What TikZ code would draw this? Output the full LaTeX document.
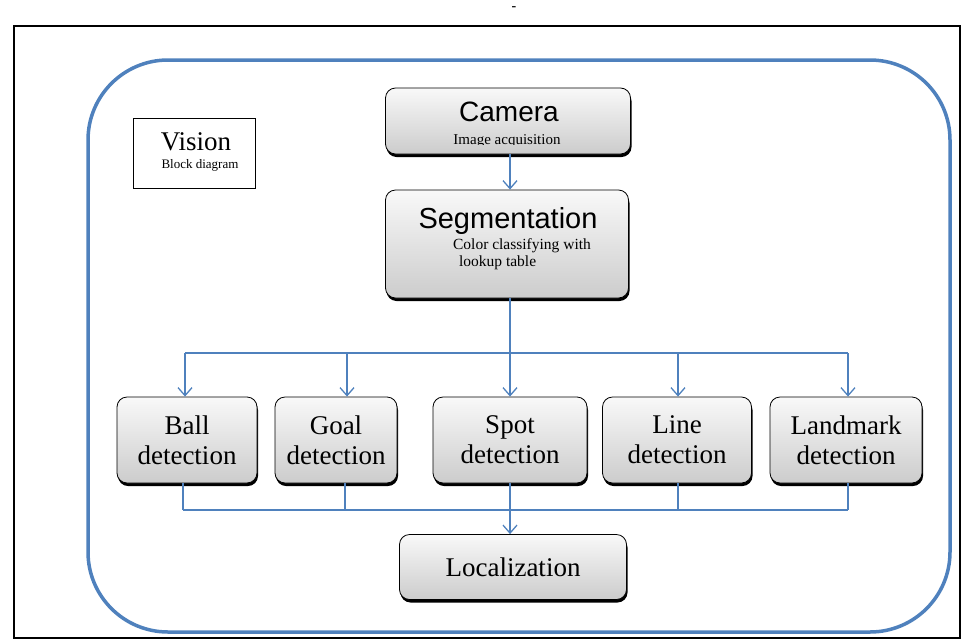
\documentclass[tikz,border=0pt]{standalone}
\usepackage{fontspec}
\setmainfont{Liberation Serif}
\newfontfamily\sansf{Liberation Sans}
\usetikzlibrary{arrows.meta,shadows}
\definecolor{bl}{HTML}{4F81BD}
\begin{document}
\begin{tikzpicture}[x=1pt,y=-1pt,
  box/.style={draw=black,line width=0.8pt,rounded corners=10pt,top color=gray!5,bottom color=gray!40,
    drop shadow={shadow xshift=1pt,shadow yshift=-3pt,fill=black,opacity=1},align=center,inner sep=0pt},
  con/.style={draw=bl,line width=1.3pt},
  arr/.style={con,-{Straight Barb[length=8pt,width=14pt]}}]
\useasboundingbox (0,0) rectangle (972,643);
\node (dash) at (514,9) {\bfseries\fontsize{14}{14}\selectfont -};
\draw[line width=1.3pt] (14,26) rectangle (960,638);
\draw[bl,line width=3.5pt,rounded corners=80pt] (88,60) rectangle (950,632);
\node[draw,line width=0.6pt,minimum width=122pt,minimum height=70pt] (vis) at (194,153) {};
\node at (196,142) {\fontsize{27}{28}\selectfont Vision};
\node at (200,165) {\fontsize{13}{14}\selectfont Block diagram};
\node[box,minimum width=245pt,minimum height=66pt] (cam) at (508,121) {};
\node at (509,112) {\sansf\fontsize{28}{30}\selectfont Camera};
\begin{scope}
\clip (390,128) rectangle (625,144);
\node at (507,141) {\fontsize{15}{16}\selectfont Image acquisition};
\end{scope}
\node[box,minimum width=243pt,minimum height=108pt] (seg) at (507,244) {};
\node at (508,221) {\sansf\fontsize{29}{31}\selectfont Segmentation};
\node[align=left,font=\fontsize{15.5}{17}\selectfont] at (518,254) {\hspace{8pt}Color classifying with\\ \hspace{14pt}lookup table};
\foreach \n/\x/\w/\t in {ball/187/140/Ball\\detection, goal/336/122/Goal\\detection, spot/510/154/Spot\\detection, line/677/149/Line\\detection, land/846/152/Landmark\\detection}{
  \node[box,minimum width=\w pt,minimum height=86pt,font=\fontsize{27}{30}\selectfont] (\n) at (\x,440) {\t};
}
\node[box,minimum width=227pt,minimum height=65pt,font=\fontsize{27}{30}\selectfont] (loc) at (513,567) {Localization};
\draw[arr] (cam.south -| 510,0) -- (seg.north -| 510,0);
\coordinate (hj) at (510,353);
\draw[con] (seg.south -| 510,0) -- (hj);
\draw[con] (185,353) -- (848,353);
\foreach \n/\x in {ball/185,goal/347,spot/510,line/678,land/848}{
  \draw[arr] (\x,353) -- (\n.north -| \x,0);
}
\foreach \n/\x in {ball/183,goal/345,spot/510,line/678,land/848}{
  \draw[con] (\n.south -| \x,0) -- (\x,510);
}
\draw[con] (183,510) -- (848,510);
\draw[arr] (510,510) -- (loc.north -| 510,0);
\end{tikzpicture}
\end{document}
